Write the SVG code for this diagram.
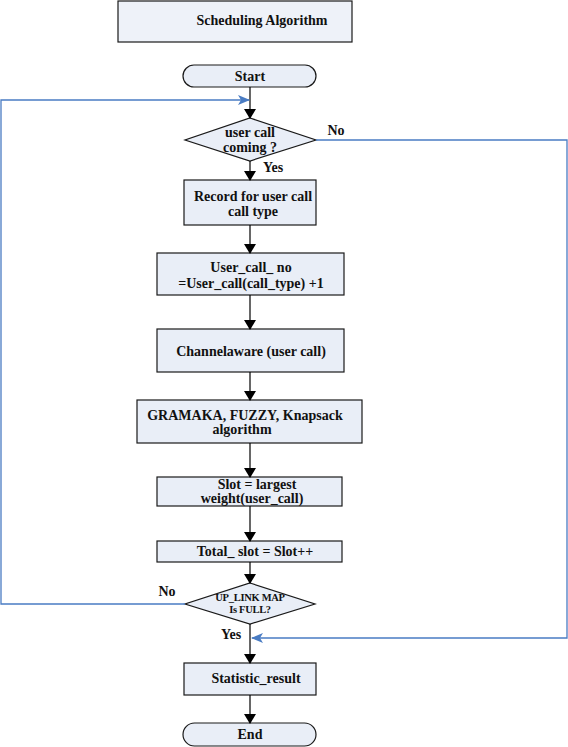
<svg xmlns="http://www.w3.org/2000/svg" width="568" height="747" viewBox="0 0 568 747">
<style>
.box{fill:#e9eef7;stroke:#1a1a1a;stroke-width:1.2}
.t{font-family:"Liberation Serif",serif;font-weight:bold;font-size:14px;fill:#111;text-anchor:middle}
.s{font-size:10.5px;letter-spacing:-0.3px}
.ln{stroke:#000;stroke-width:1.2;fill:none}
.bl{stroke:#4a7cc3;stroke-width:1.3;fill:none}
</style>
<defs>
<marker id="ah" markerWidth="10" markerHeight="12" refX="9" refY="6" orient="auto" markerUnits="userSpaceOnUse"><path d="M0,0 L10,6 L0,12 Z" fill="#000"/></marker>
<marker id="bh" markerWidth="12" markerHeight="10" refX="11" refY="5" orient="auto" markerUnits="userSpaceOnUse"><path d="M0,0 L12,5 L0,10 L3,5 Z" fill="#4a7cc3"/></marker>
</defs>
<rect width="568" height="747" fill="#fff"/>
<g id="title"><rect class="box" x="118" y="1" width="234" height="41" style="fill:#eef2f9"/><text class="t" x="262" y="25">Scheduling Algorithm</text></g>
<g id="start"><rect class="box" x="183" y="65" width="133" height="22" rx="11"/><text class="t" x="250" y="81">Start</text></g>
<g id="d1"><polygon class="box" points="250,118 316,140 250,161 185,140"/><text class="t" x="250" y="137">user call</text><text class="t" x="250" y="152">coming ?</text></g>
<g id="record"><rect class="box" x="184" y="180" width="132" height="45"/><text class="t" x="253" y="201">Record for user call</text><text class="t" x="253" y="216">call type</text></g>
<g id="usercall"><rect class="box" x="157" y="253" width="187" height="42"/><text class="t" x="251" y="272">User_call_ no</text><text class="t" x="251" y="288">=User_call(call_type) +1</text></g>
<g id="channel"><rect class="box" x="157" y="329" width="187" height="43"/><text class="t" x="251" y="356">Channelaware (user call)</text></g>
<g id="gramaka"><rect class="box" x="137" y="400" width="225" height="43"/><text class="t" x="245" y="420">GRAMAKA, FUZZY,  Knapsack</text><text class="t" x="242" y="434">algorithm</text></g>
<g id="slot"><rect class="box" x="157" y="477" width="185" height="29"/><text class="t" x="257" y="489">Slot = largest</text><text class="t" x="252" y="503">weight(user_call)</text></g>
<g id="total"><rect class="box" x="157" y="541" width="185" height="21"/><text class="t" x="255" y="556">Total_ slot = Slot++</text></g>
<g id="d2"><polygon class="box" points="250,583 315,604 250,624 185,604"/><text class="t s" x="250" y="601">UP_LINK MAP</text><text class="t s" x="250" y="613">Is FULL?</text></g>
<g id="stat"><rect class="box" x="184" y="663" width="132" height="32"/><text class="t" x="256" y="683">Statistic_result</text></g>
<g id="end"><rect class="box" x="183" y="723" width="133" height="23" rx="11.5"/><text class="t" x="250" y="739">End</text></g>
<g id="connectors">
<line class="ln" x1="250" y1="87" x2="250" y2="118" marker-end="url(#ah)"/>
<line class="ln" x1="250" y1="161" x2="250" y2="180" marker-end="url(#ah)"/>
<line class="ln" x1="250" y1="225" x2="250" y2="253" marker-end="url(#ah)"/>
<line class="ln" x1="250" y1="295" x2="250" y2="329" marker-end="url(#ah)"/>
<line class="ln" x1="250" y1="372" x2="250" y2="400" marker-end="url(#ah)"/>
<line class="ln" x1="250" y1="443" x2="250" y2="477" marker-end="url(#ah)"/>
<line class="ln" x1="250" y1="506" x2="250" y2="541" marker-end="url(#ah)"/>
<line class="ln" x1="250" y1="562" x2="250" y2="583" marker-end="url(#ah)"/>
<line class="ln" x1="250" y1="624" x2="250" y2="663" marker-end="url(#ah)"/>
<line class="ln" x1="250" y1="695" x2="250" y2="723" marker-end="url(#ah)"/>
<polyline class="bl" points="185,604 1,604 1,100 249,100" marker-end="url(#bh)"/>
<polyline class="bl" points="316,140 567,140 567,638 252,638" marker-end="url(#bh)"/>
<text class="t" x="336" y="135">No</text>
<text class="t" x="273" y="172">Yes</text>
<text class="t" x="167" y="596">No</text>
<text class="t" x="231" y="639">Yes</text>
</g>
</svg>
